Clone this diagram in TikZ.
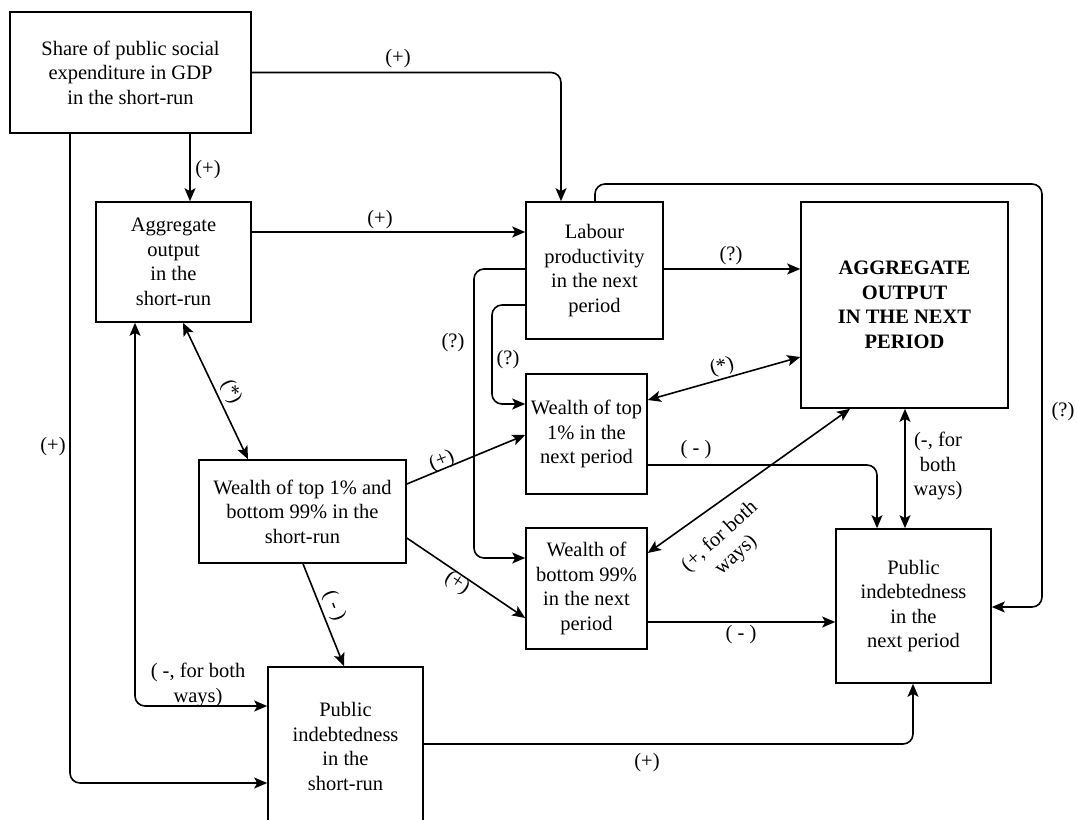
\documentclass[tikz,border=0pt]{standalone}
\usepackage{fontspec}
\setmainfont{Liberation Serif}
\newfontfamily\tnr{Liberation Serif}
\usetikzlibrary{arrows.meta}
\tikzset{
  txt/.style={font=\tnr\fontsize{20.5}{24.5}\selectfont},
  box/.style={draw, line width=1.6pt, align=center, inner sep=0pt, txt},
  conn/.style={line width=1.6pt, rounded corners=10pt},
  arr/.style={conn, -{Stealth[length=13pt,width=11pt,inset=3pt]}},
  darr/.style={conn, {Stealth[length=13pt,width=11pt,inset=3pt]}-{Stealth[length=13pt,width=11pt,inset=3pt]}},
  lbl/.style={txt, inner sep=1pt, align=center},
}
\begin{document}
\begin{tikzpicture}[x=1pt,y=-1pt]
\useasboundingbox (0,0) rectangle (1078,819);
\clip (0,0) rectangle (1078,819);
% boxes
\node[box, minimum width=241pt, minimum height=121pt] (A) at (130.5,72.5) {Share of public social\\expenditure in GDP\\in the short-run};
\node[box, minimum width=155pt, minimum height=120pt] (agg) at (173.5,262) {Aggregate\\output\\in the\\short-run};
\node[box, minimum width=137pt, minimum height=137pt] (lab) at (594.5,270.5) {Labour\\productivity\\in the next\\period};
\node[box, minimum width=207pt, minimum height=206pt, font=\tnr\fontsize{20.5}{24.5}\selectfont\bfseries] (AGG) at (904.5,305) {AGGREGATE\\OUTPUT\\IN THE NEXT\\PERIOD};
\node[box, minimum width=121pt, minimum height=120pt] (wtop) at (586.5,434) {Wealth of top\\1\% in the\\next period};
\node[box, minimum width=207pt, minimum height=103pt] (wsr) at (302.5,511.5) {Wealth of top 1\% and\\bottom 99\% in the\\short-run};
\node[box, minimum width=121pt, minimum height=121pt] (wbot) at (586.5,588.5) {Wealth of\\bottom 99\%\\in the next\\period};
\node[box, minimum width=155pt, minimum height=154pt] (pnext) at (913.5,606) {Public\\indebtedness\\in the\\next period};
\node[box, minimum width=155pt, minimum height=159pt] (psr) at (345.5,746.5) {Public\\indebtedness\\in the\\short-run};
% connectors
\draw[arr] (A.east) -| (lab.north -| 561,0) node[lbl] at (398,59) {(+)};
\draw[arr] (A.south -| 190,0) -- (agg.north -| 190,0) node[lbl] at (208,170) {(+)};
\draw[arr] (A.south -| 70,0) |- (psr.west |- 0,783) node[lbl] at (53,447) {(+)};
\draw[arr] (agg.east |- 0,232) -- (lab.west |- 0,232) node[lbl] at (380,220) {(+)};
\draw[darr] (psr.west |- 0,706) -| (agg.south -| 135,0) node[lbl] at (198,685) {( -, for both\\ways)};
\draw[darr] (agg.south -| 183,0) -- (wsr.north -| 248,0) node[lbl, rotate=-64.8] at (231,392) {(*)};
\draw[arr] (wsr.east |- 0,484) -- (wtop.west |- 0,435) node[lbl, rotate=22.2] at (442,461) {(+)};
\draw[arr] (wsr.east |- 0,538) -- (wbot.west |- 0,618) node[lbl, rotate=-33.7] at (457,583) {(+)};
\draw[arr] (wsr.south -| 303,0) -- (psr.north -| 344,0) node[lbl, rotate=-68.3] at (334,606) {( - )};
\draw[arr] (lab.east |- 0,269) -- (AGG.west |- 0,269) node[lbl] at (731,256) {(?)};
\draw[arr] (lab.west |- 0,269) -| (474,420) |- (wbot.west |- 0,558) node[lbl] at (453,343) {(?)};
\draw[arr] (lab.west |- 0,305) -| (492,360) |- (wtop.west |- 0,404) node[lbl] at (508,360) {(?)};
\draw[arr] (lab.north -| 595,0) |- (1042,184) |- (pnext.east |- 0,607) node[lbl] at (1063,412) {(?)};
\draw[darr] (wtop.east |- 0,400) -- (AGG.west |- 0,357) node[lbl, rotate=15.5] at (722,367) {(*)};
\draw[arr] (wtop.east |- 0,465) -| (pnext.north -| 877,0) node[lbl] at (696,450) {( - )};
\draw[darr] (AGG.south -| 905,0) -- (pnext.north -| 905,0) node[lbl] at (938,466) {(-, for\\both\\ways)};
\draw[darr] (AGG.south -| 850,0) -- (wbot.east |- 0,553) node[lbl, rotate=42] at (728,546) {(+, for both\\ways)};
\draw[arr] (wbot.east |- 0,622) -- (pnext.west |- 0,622) node[lbl] at (741,635) {( - )};
\draw[arr] (psr.east |- 0,744) -| (pnext.south -| 913,0) node[lbl] at (647,763) {(+)};
\end{tikzpicture}
\end{document}
